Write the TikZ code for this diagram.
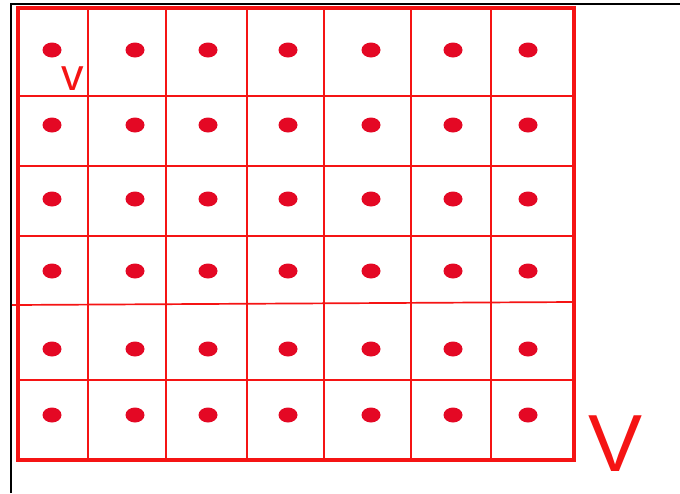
\documentclass[tikz,border=0pt]{standalone}
\usepackage{fontspec}
\setmainfont{Liberation Sans}
\usetikzlibrary{shapes.geometric,positioning}
\definecolor{gridred}{RGB}{245, 20, 20}
\definecolor{dotred}{RGB}{228, 8, 36}

\begin{document}
\begin{tikzpicture}[
    x=1pt, y=-1pt,
    gridline/.style={draw=gridred, line width=1.7pt},
    dot/.style={ellipse, fill=dotred, draw=none, inner sep=0pt,
                minimum width=19pt, minimum height=15pt},
    marklabel/.style={text=gridred, inner sep=0pt}
]
\useasboundingbox (0,0) rectangle (680,493);
\fill[white] (0,0) rectangle (680,493);

% page frame
\draw[black, line width=1.2pt] (11,493) -- (11,4) -- (680,4);

% grid
\foreach \x in {88,166,247,324,411,491}
    \draw[gridline] (\x,8) -- (\x,460);
\foreach \y in {96,166,236,380}
    \draw[gridline] (18,\y) -- (574,\y);
\draw[gridline] (12,305) -- (574,302);
\draw[gridred, line width=4pt] (18,8) rectangle (574,460);

% sample points
\foreach \y [count=\r] in {50,125,199,271,349,415}
    \foreach \x [count=\c] in {52,135,208,288,371,453,528}
        \node[dot] (dot-\r-\c) at (\x,\y) {};

\node[marklabel, font=\fontsize{45}{45}\selectfont] (small-v) at (73,79) {v};
\node[marklabel, font=\fontsize{81}{81}\selectfont] (big-V) at (616,444) {V};
\end{tikzpicture}
\end{document}
